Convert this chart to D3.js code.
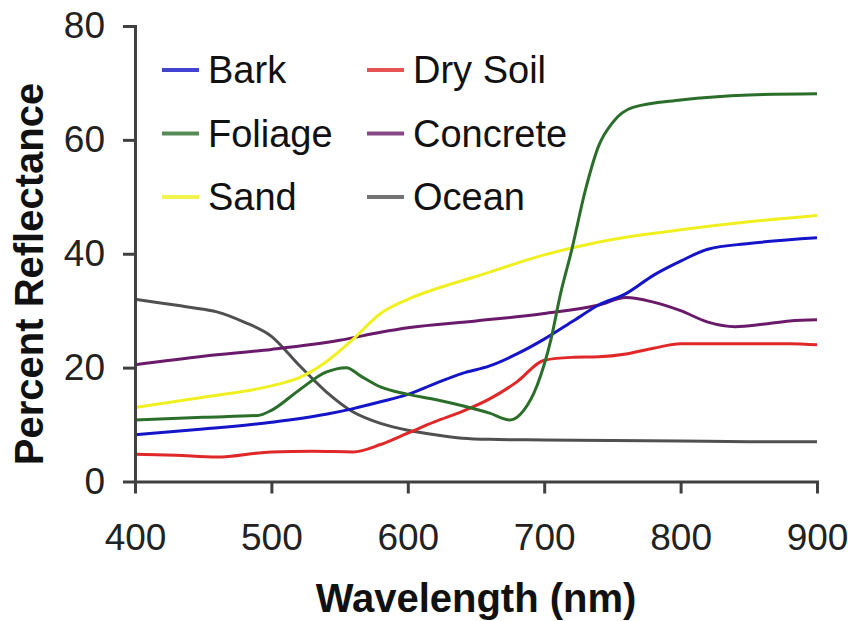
<!DOCTYPE html>
<html lang="en">
<head>
    <meta charset="UTF-8">
    <title>Percent Reflectance</title>
    <style>
        body {
            margin: 0;
            background-color: white;
        }
        svg {
            display: block;
            font-family: "Liberation Sans", Arial, sans-serif;
        }
        .axis path, .axis line {
            stroke: #404040;
            stroke-width: 3;
        }
        .axis text {
            font-size: 37px;
            fill: #222;
        }
        .title {
            font-size: 40px;
            font-weight: bold;
            fill: #111;
        }
        .legend text {
            font-size: 38px;
            fill: #111;
        }
        .series {
            fill: none;
            stroke-width: 3;
        }
    </style>
</head>
<body>
    <svg width="848" height="621"></svg>
    <script src="https://cdn.jsdelivr.net/npm/d3@7"></script>
    <script>
        // [wavelength nm, percent reflectance]
        const bark = [[400, 8.2], [450, 9.2], [500, 10.4], [540, 11.8], [560, 12.8], [580, 14],
            [600, 15.3], [620, 17.2], [640, 19], [660, 20.3], [680, 22.4], [700, 25], [720, 28],
            [740, 31], [760, 33], [780, 36.2], [800, 38.7], [820, 40.8], [850, 41.8], [900, 42.8]];
        const foliage = [[400, 10.8], [450, 11.3], [490, 11.6], [500, 12.5], [520, 16], [540, 19.2],
            [555, 20], [565, 18.6], [580, 16.6], [600, 15.3], [620, 14.4], [640, 13.3], [660, 12],
            [675, 10.8], [685, 12.5], [695, 17], [705, 25], [712, 33], [720, 40.5], [730, 51],
            [740, 59], [750, 63], [765, 65.7], [800, 67], [850, 67.9], [900, 68.1]];
        const sand = [[400, 13], [450, 14.8], [500, 16.8], [520, 18.2], [540, 21], [560, 25],
            [580, 29.5], [600, 32], [620, 33.8], [650, 36], [700, 39.8], [750, 42.5], [800, 44.2],
            [850, 45.6], [900, 46.7]];
        const drySoil = [[400, 4.8], [430, 4.6], [460, 4.3], [500, 5.2], [530, 5.3], [560, 5.2],
            [580, 6.5], [600, 8.5], [620, 10.5], [640, 12.3], [660, 14.5], [680, 17.5], [700, 21.3],
            [720, 21.8], [740, 21.9], [760, 22.4], [780, 23.4], [800, 24.2], [850, 24.2], [880, 24.2],
            [900, 24]];
        const concrete = [[400, 20.5], [450, 22], [500, 23.2], [550, 24.8], [580, 26.2], [600, 27],
            [650, 28.2], [700, 29.5], [740, 31], [760, 32.3], [780, 31.5], [800, 30], [820, 28],
            [840, 27.2], [860, 27.6], [880, 28.2], [900, 28.4]];
        const ocean = [[400, 32], [420, 31.3], [440, 30.6], [460, 29.8], [480, 28], [500, 25.5],
            [520, 20.5], [540, 15.8], [560, 12.2], [580, 10.2], [600, 9], [620, 8.2], [640, 7.6],
            [660, 7.4], [700, 7.3], [750, 7.2], [800, 7.1], [850, 7], [900, 7]];

        const names = ["Bark", "Foliage", "Sand", "Dry Soil", "Concrete", "Ocean"];
        const colors = ["#1414c8", "#2a6e2a", "#f0f020", "#e02828", "#6a1a6a", "#505050"];
        const xTicks = [400, 500, 600, 700, 800, 900];
        const yTicks = [0, 20, 40, 60, 80];

        const seriesList = [bark, foliage, sand, drySoil, concrete, ocean];

        const svg = d3.select("svg");
        const plotLeft = 135, plotRight = 817, plotTop = 26, plotBottom = 481.5;

        const x = d3.scaleLinear().domain([400, 900]).range([plotLeft, plotRight]);
        const y = d3.scaleLinear().domain([0, 80]).range([plotBottom, plotTop]);

        const line = d3.line()
            .x(d => x(d[0]))
            .y(d => y(d[1]))
            .curve(d3.curveMonotoneX);

        // draw order roughly as in the picture
        const order = [5, 4, 2, 0, 3, 1];
        order.forEach(i => {
            svg.append("path")
                .datum(seriesList[i])
                .attr("class", "series")
                .attr("stroke", colors[i])
                .attr("d", line);
        });

        svg.append("g")
            .attr("class", "axis")
            .attr("transform", `translate(0,${plotBottom})`)
            .call(d3.axisBottom(x).tickValues(xTicks).tickSize(12).tickSizeOuter(0).tickPadding(30))
            .selectAll("text").attr("dy", "0.72em");

        svg.append("g")
            .attr("class", "axis")
            .attr("transform", `translate(${plotLeft},0)`)
            .call(d3.axisLeft(y).tickValues(yTicks).tickSize(12).tickSizeOuter(0).tickPadding(18));

        svg.selectAll(".axis .domain").attr("stroke-linecap", "square");

        svg.append("text")
            .attr("class", "title")
            .attr("x", (plotLeft + plotRight) / 2)
            .attr("y", 612)
            .attr("text-anchor", "middle")
            .text("Wavelength (nm)");

        svg.append("text")
            .attr("class", "title")
            .attr("transform", "translate(43,274) rotate(-90)")
            .attr("text-anchor", "middle")
            .text("Percent Reflectance");

        const legend = svg.append("g").attr("class", "legend");
        names.forEach((name, i) => {
            const col = Math.floor(i / 3), row = i % 3;
            const lx = col === 0 ? 162 : 367;
            const base = 83 + row * 63.5;
            legend.append("line")
                .attr("x1", lx).attr("x2", lx + 37)
                .attr("y1", base - 13).attr("y2", base - 13)
                .attr("stroke", colors[i])
                .attr("stroke-width", 4)
                .attr("stroke-opacity", 0.8);
            legend.append("text")
                .attr("x", lx + 46)
                .attr("y", base)
                .text(name);
        });
    </script>
</body>
</html>
